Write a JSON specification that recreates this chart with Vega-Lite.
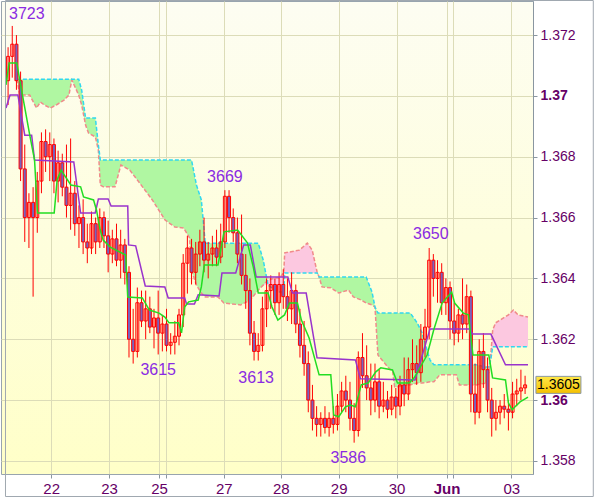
{
"$schema":"https://vega.github.io/schema/vega-lite/v6.json",
"width":532,"height":473,
"autosize":{"type":"none"},
"padding":{"left":1,"top":1,"right":67,"bottom":23},
"background":"#ffffff",
"config":{"view":{"stroke":"#98a4ae","strokeWidth":1,"fill":{"gradient":"linear","x1":0,"y1":0,"x2":0,"y2":1,"stops":[{"offset":0,"color":"#fdfdf2"},{"offset":1,"color":"#ffffc8"}]}}},
"datasets":{
"candles":[
{"t":0,"o":1.3705,"h":1.3716,"l":1.3697,"c":1.3713},{"t":1,"o":1.3713,"h":1.3723,"l":1.3706,"c":1.3717},{"t":2,"o":1.3717,"h":1.3720,"l":1.3702,"c":1.3705},{"t":3,"o":1.3705,"h":1.3708,"l":1.3672,"c":1.3676},{"t":4,"o":1.3676,"h":1.3684,"l":1.3652,"c":1.3660},
{"t":5,"o":1.3660,"h":1.3668,"l":1.3650,"c":1.3665},{"t":6,"o":1.3665,"h":1.3670,"l":1.3634,"c":1.3660},{"t":7,"o":1.3660,"h":1.3675,"l":1.3655,"c":1.3672},{"t":8,"o":1.3672,"h":1.3688,"l":1.3668,"c":1.3685},{"t":9,"o":1.3685,"h":1.3689,"l":1.3675,"c":1.3680},
{"t":10,"o":1.3680,"h":1.3688,"l":1.3672,"c":1.3684},{"t":11,"o":1.3684,"h":1.3686,"l":1.3668,"c":1.3672},{"t":12,"o":1.3672,"h":1.3682,"l":1.3665,"c":1.3678},{"t":13,"o":1.3678,"h":1.3681,"l":1.3667,"c":1.3670},{"t":14,"o":1.3670,"h":1.3684,"l":1.3660,"c":1.3664},
{"t":15,"o":1.3664,"h":1.3686,"l":1.3656,"c":1.3668},{"t":16,"o":1.3668,"h":1.3672,"l":1.3654,"c":1.3658},{"t":17,"o":1.3658,"h":1.3664,"l":1.3650,"c":1.3660},{"t":18,"o":1.3660,"h":1.3666,"l":1.3648,"c":1.3652},{"t":19,"o":1.3652,"h":1.3658,"l":1.3645,"c":1.3650},
{"t":20,"o":1.3650,"h":1.3662,"l":1.3648,"c":1.3658},{"t":21,"o":1.3658,"h":1.3660,"l":1.3648,"c":1.3652},{"t":22,"o":1.3652,"h":1.3663,"l":1.3650,"c":1.3660},{"t":23,"o":1.3660,"h":1.3662,"l":1.3650,"c":1.3654},{"t":24,"o":1.3654,"h":1.3659,"l":1.3642,"c":1.3648},
{"t":25,"o":1.3648,"h":1.3656,"l":1.3645,"c":1.3653},{"t":26,"o":1.3653,"h":1.3658,"l":1.3644,"c":1.3646},{"t":27,"o":1.3646,"h":1.3656,"l":1.3640,"c":1.3651},{"t":28,"o":1.3651,"h":1.3653,"l":1.3638,"c":1.3642},{"t":29,"o":1.3642,"h":1.3644,"l":1.3614,"c":1.3620},
{"t":30,"o":1.3620,"h":1.3630,"l":1.3612,"c":1.3616},{"t":31,"o":1.3616,"h":1.3637,"l":1.3614,"c":1.3632},{"t":32,"o":1.3632,"h":1.3636,"l":1.3624,"c":1.3626},{"t":33,"o":1.3626,"h":1.3636,"l":1.3620,"c":1.3630},{"t":34,"o":1.3630,"h":1.3634,"l":1.3622,"c":1.3624},
{"t":35,"o":1.3624,"h":1.3630,"l":1.3617,"c":1.3627},{"t":36,"o":1.3627,"h":1.3636,"l":1.3615,"c":1.3622},{"t":37,"o":1.3622,"h":1.3628,"l":1.3616,"c":1.3625},{"t":38,"o":1.3625,"h":1.3630,"l":1.3616,"c":1.3618},{"t":39,"o":1.3618,"h":1.3622,"l":1.3615,"c":1.3619},
{"t":40,"o":1.3619,"h":1.3626,"l":1.3615,"c":1.3621},{"t":41,"o":1.3621,"h":1.3630,"l":1.3618,"c":1.3628},{"t":42,"o":1.3628,"h":1.3648,"l":1.3624,"c":1.3645},{"t":43,"o":1.3645,"h":1.3654,"l":1.3635,"c":1.3650},{"t":44,"o":1.3650,"h":1.3653,"l":1.3638,"c":1.3642},
{"t":45,"o":1.3642,"h":1.3652,"l":1.3638,"c":1.3648},{"t":46,"o":1.3648,"h":1.3656,"l":1.3644,"c":1.3652},{"t":47,"o":1.3652,"h":1.3660,"l":1.3642,"c":1.3646},{"t":48,"o":1.3646,"h":1.3652,"l":1.3640,"c":1.3648},{"t":49,"o":1.3648,"h":1.3654,"l":1.3644,"c":1.3650},
{"t":50,"o":1.3650,"h":1.3656,"l":1.3644,"c":1.3647},{"t":51,"o":1.3647,"h":1.3658,"l":1.3645,"c":1.3652},{"t":52,"o":1.3652,"h":1.3669,"l":1.3650,"c":1.3667},{"t":53,"o":1.3667,"h":1.3669,"l":1.3655,"c":1.3660},{"t":54,"o":1.3660,"h":1.3663,"l":1.3652,"c":1.3655},
{"t":55,"o":1.3655,"h":1.3660,"l":1.3645,"c":1.3648},{"t":56,"o":1.3648,"h":1.3661,"l":1.3638,"c":1.3641},{"t":57,"o":1.3641,"h":1.3648,"l":1.3630,"c":1.3636},{"t":58,"o":1.3636,"h":1.3640,"l":1.3618,"c":1.3622},{"t":59,"o":1.3622,"h":1.3626,"l":1.3613,"c":1.3616},
{"t":60,"o":1.3616,"h":1.3622,"l":1.3613,"c":1.3618},{"t":61,"o":1.3618,"h":1.3634,"l":1.3616,"c":1.3630},{"t":62,"o":1.3630,"h":1.3640,"l":1.3624,"c":1.3636},{"t":63,"o":1.3636,"h":1.3641,"l":1.3630,"c":1.3638},{"t":64,"o":1.3638,"h":1.3640,"l":1.3628,"c":1.3632},
{"t":65,"o":1.3632,"h":1.3642,"l":1.3628,"c":1.3638},{"t":66,"o":1.3638,"h":1.3643,"l":1.3630,"c":1.3634},{"t":67,"o":1.3634,"h":1.3640,"l":1.3626,"c":1.3630},{"t":68,"o":1.3630,"h":1.3642,"l":1.3625,"c":1.3636},{"t":69,"o":1.3636,"h":1.3638,"l":1.3622,"c":1.3625},
{"t":70,"o":1.3625,"h":1.3630,"l":1.3614,"c":1.3618},{"t":71,"o":1.3618,"h":1.3626,"l":1.3608,"c":1.3612},{"t":72,"o":1.3612,"h":1.3616,"l":1.3596,"c":1.3600},{"t":73,"o":1.3600,"h":1.3605,"l":1.3590,"c":1.3594},{"t":74,"o":1.3594,"h":1.3598,"l":1.3588,"c":1.3592},
{"t":75,"o":1.3592,"h":1.3596,"l":1.3588,"c":1.3594},{"t":76,"o":1.3594,"h":1.3598,"l":1.3589,"c":1.3591},{"t":77,"o":1.3591,"h":1.3596,"l":1.3588,"c":1.3594},{"t":78,"o":1.3594,"h":1.3598,"l":1.3589,"c":1.3592},{"t":79,"o":1.3592,"h":1.3602,"l":1.3590,"c":1.3598},
{"t":80,"o":1.3598,"h":1.3606,"l":1.3596,"c":1.3603},{"t":81,"o":1.3603,"h":1.3608,"l":1.3596,"c":1.3600},{"t":82,"o":1.3600,"h":1.3606,"l":1.3590,"c":1.3594},{"t":83,"o":1.3594,"h":1.3599,"l":1.3586,"c":1.3590},{"t":84,"o":1.3590,"h":1.3616,"l":1.3588,"c":1.3614},
{"t":85,"o":1.3614,"h":1.3622,"l":1.3604,"c":1.3608},{"t":86,"o":1.3608,"h":1.3618,"l":1.3600,"c":1.3604},{"t":87,"o":1.3604,"h":1.3612,"l":1.3595,"c":1.3600},{"t":88,"o":1.3600,"h":1.3612,"l":1.3596,"c":1.3606},{"t":89,"o":1.3606,"h":1.3610,"l":1.3594,"c":1.3598},
{"t":90,"o":1.3598,"h":1.3606,"l":1.3596,"c":1.3600},{"t":91,"o":1.3600,"h":1.3603,"l":1.3594,"c":1.3597},{"t":92,"o":1.3597,"h":1.3605,"l":1.3595,"c":1.3601},{"t":93,"o":1.3601,"h":1.3604,"l":1.3594,"c":1.3598},{"t":94,"o":1.3598,"h":1.3608,"l":1.3595,"c":1.3605},
{"t":95,"o":1.3605,"h":1.3614,"l":1.3598,"c":1.3602},{"t":96,"o":1.3602,"h":1.3614,"l":1.3600,"c":1.3610},{"t":97,"o":1.3610,"h":1.3620,"l":1.3606,"c":1.3612},{"t":98,"o":1.3612,"h":1.3618,"l":1.3605,"c":1.3609},{"t":99,"o":1.3609,"h":1.3625,"l":1.3606,"c":1.3620},
{"t":100,"o":1.3620,"h":1.3630,"l":1.3614,"c":1.3624},{"t":101,"o":1.3624,"h":1.3650,"l":1.3620,"c":1.3646},{"t":102,"o":1.3646,"h":1.3648,"l":1.3634,"c":1.3640},{"t":103,"o":1.3640,"h":1.3646,"l":1.3632,"c":1.3642},{"t":104,"o":1.3642,"h":1.3645,"l":1.3628,"c":1.3632},
{"t":105,"o":1.3632,"h":1.3640,"l":1.3628,"c":1.3637},{"t":106,"o":1.3637,"h":1.3639,"l":1.3620,"c":1.3626},{"t":107,"o":1.3626,"h":1.3632,"l":1.3618,"c":1.3622},{"t":108,"o":1.3622,"h":1.3630,"l":1.3619,"c":1.3628},{"t":109,"o":1.3628,"h":1.3640,"l":1.3620,"c":1.3625},
{"t":110,"o":1.3625,"h":1.3638,"l":1.3622,"c":1.3634},{"t":111,"o":1.3634,"h":1.3636,"l":1.3596,"c":1.3602},{"t":112,"o":1.3602,"h":1.3612,"l":1.3592,"c":1.3596},{"t":113,"o":1.3596,"h":1.3620,"l":1.3594,"c":1.3616},{"t":114,"o":1.3616,"h":1.3622,"l":1.3604,"c":1.3610},
{"t":115,"o":1.3610,"h":1.3614,"l":1.3596,"c":1.3600},{"t":116,"o":1.3600,"h":1.3604,"l":1.3588,"c":1.3594},{"t":117,"o":1.3594,"h":1.3600,"l":1.3590,"c":1.3596},{"t":118,"o":1.3596,"h":1.3600,"l":1.3592,"c":1.3598},{"t":119,"o":1.3598,"h":1.3602,"l":1.3594,"c":1.3597},
{"t":120,"o":1.3597,"h":1.3600,"l":1.3590,"c":1.3596},{"t":121,"o":1.3596,"h":1.3606,"l":1.3594,"c":1.3602},{"t":122,"o":1.3602,"h":1.3607,"l":1.3598,"c":1.3603},{"t":123,"o":1.3603,"h":1.3610,"l":1.3600,"c":1.3604},{"t":124,"o":1.3604,"h":1.3608,"l":1.3602,"c":1.3605}
],
"kijun":[
{"t":-0.5,"p":1.3696},{"t":0.47,"p":1.37003},{"t":2.35,"p":1.37003},{"t":4,"p":1.36871},{"t":5.65,"p":1.36871},{"t":6.35,"p":1.36789},{"t":15.76,"p":1.36783},{"t":17.4,"p":1.36615},{"t":20.9,"p":1.36615},{"t":21.65,"p":1.36661},{"t":24,"p":1.36661},{"t":24.7,"p":1.36638},{"t":28.7,"p":1.36638},{"t":28.9,"p":1.3651},{"t":30.6,"p":1.36507},{"t":32.9,"p":1.36375},{"t":37.6,"p":1.36372},{"t":38.4,"p":1.36336},{"t":42.35,"p":1.36336},{"t":42.8,"p":1.36316},{"t":44.7,"p":1.36316},{"t":45.6,"p":1.36346},{"t":50.6,"p":1.36342},{"t":51.3,"p":1.36418},{"t":54.6,"p":1.36418},{"t":56.5,"p":1.3651},{"t":58.1,"p":1.3651},{"t":59.5,"p":1.36405},{"t":67.1,"p":1.36405},{"t":68.2,"p":1.36352},{"t":71.5,"p":1.36352},{"t":74.1,"p":1.36139},{"t":83.3,"p":1.36132},{"t":84.5,"p":1.3607},{"t":97.6,"p":1.36066},{"t":101.2,"p":1.36234},{"t":110.6,"p":1.36234},{"t":111.5,"p":1.36217},{"t":115.8,"p":1.36217},{"t":119.3,"p":1.36116},{"t":124.7,"p":1.36116}
],
"tenkan":[
{"t":-0.5,"p":1.37036},{"t":0.24,"p":1.37108},{"t":2.1,"p":1.37108},{"t":2.8,"p":1.37052},{"t":5.2,"p":1.36871},{"t":6.35,"p":1.36789},{"t":7.06,"p":1.36615},{"t":11.06,"p":1.36615},{"t":11.76,"p":1.36724},{"t":12.7,"p":1.36756},{"t":15.06,"p":1.36707},{"t":17.4,"p":1.36701},{"t":18.1,"p":1.36668},{"t":20.5,"p":1.36658},{"t":21.2,"p":1.36625},{"t":22.1,"p":1.36559},{"t":22.8,"p":1.36526},{"t":24.5,"p":1.36503},{"t":28.2,"p":1.36477},{"t":28.7,"p":1.36339},{"t":32.2,"p":1.36336},{"t":33.9,"p":1.36296},{"t":36.2,"p":1.36286},{"t":37.6,"p":1.36273},{"t":38.6,"p":1.36254},{"t":40.9,"p":1.36254},{"t":41.6,"p":1.36221},{"t":42.35,"p":1.36306},{"t":43.3,"p":1.36323},{"t":45.6,"p":1.36329},{"t":46.35,"p":1.36372},{"t":47.06,"p":1.36444},{"t":50.35,"p":1.36444},{"t":51.8,"p":1.36553},{"t":55.06,"p":1.36559},{"t":57.4,"p":1.36517},{"t":58.8,"p":1.36438},{"t":60,"p":1.36352},{"t":62.35,"p":1.36352},{"t":63.3,"p":1.36306},{"t":64.7,"p":1.36263},{"t":66.3,"p":1.3628},{"t":67.5,"p":1.36319},{"t":69.4,"p":1.36319},{"t":70.35,"p":1.36263},{"t":72.2,"p":1.36204},{"t":74.6,"p":1.36083},{"t":77.4,"p":1.36083},{"t":78.1,"p":1.35951},{"t":79.3,"p":1.35945},{"t":80.9,"p":1.35978},{"t":82.1,"p":1.35984},{"t":83.3,"p":1.35978},{"t":84.7,"p":1.3605},{"t":86.35,"p":1.36056},{"t":88.2,"p":1.36093},{"t":89.4,"p":1.36106},{"t":92.2,"p":1.36099},{"t":93.4,"p":1.36056},{"t":96.2,"p":1.36056},{"t":97.4,"p":1.36073},{"t":100.5,"p":1.36148},{"t":102.1,"p":1.36231},{"t":104.1,"p":1.36319},{"t":106.4,"p":1.36355},{"t":107.1,"p":1.36319},{"t":109.2,"p":1.36286},{"t":110.4,"p":1.3628},{"t":111.5,"p":1.36148},{"t":115.3,"p":1.36148},{"t":116.2,"p":1.36073},{"t":119.3,"p":1.36066},{"t":120,"p":1.35991},{"t":120.9,"p":1.35968},{"t":121.6,"p":1.35978},{"t":122.8,"p":1.35994},{"t":124.7,"p":1.3601}
],
"cloud":[
{"t":2.12,"a":1.37055,"b":1.37055},{"t":2.82,"a":1.37055,"b":1.37003},{"t":5.18,"a":1.37055,"b":1.37003},{"t":6.82,"a":1.37055,"b":1.3696},{"t":7.76,"a":1.37055,"b":1.3698},{"t":8.71,"a":1.37055,"b":1.3697},{"t":10.12,"a":1.37055,"b":1.3696},{"t":11.53,"a":1.37055,"b":1.3697},{"t":13.41,"a":1.37055,"b":1.36986},{"t":14.59,"a":1.37055,"b":1.37003},{"t":15.29,"a":1.37055,"b":1.37052},{"t":16.94,"a":1.37055,"b":1.37003},{"t":17.65,"a":1.37019,"b":1.3697},{"t":18.59,"a":1.36927,"b":1.36904},{"t":19.29,"a":1.36927,"b":1.36878},{"t":20.94,"a":1.36927,"b":1.36865},{"t":21.65,"a":1.36839,"b":1.36822},{"t":22.12,"a":1.36789,"b":1.36707},{"t":22.82,"a":1.36789,"b":1.36701},{"t":25.65,"a":1.36789,"b":1.36701},{"t":27.06,"a":1.36789,"b":1.36773},{"t":29.18,"a":1.36789,"b":1.36756},{"t":31.53,"a":1.36789,"b":1.36714},{"t":34.59,"a":1.36789,"b":1.36658},{"t":37.65,"a":1.36789,"b":1.36592},{"t":40,"a":1.36789,"b":1.36569},{"t":42.12,"a":1.36789,"b":1.36566},{"t":43.53,"a":1.36789,"b":1.36533},{"t":44,"a":1.36789,"b":1.36428},{"t":45.18,"a":1.36707,"b":1.36378},{"t":46.35,"a":1.36658,"b":1.36352},{"t":47.29,"a":1.36516,"b":1.36339},{"t":50.35,"a":1.36516,"b":1.36339},{"t":51.76,"a":1.36516,"b":1.36319},{"t":55.76,"a":1.36516,"b":1.36313},{"t":58.12,"a":1.36516,"b":1.36329},{"t":60,"a":1.36516,"b":1.36362},{"t":61.18,"a":1.36461,"b":1.36378},{"t":62.35,"a":1.36378,"b":1.36395},{"t":64,"a":1.36362,"b":1.36401},{"t":65.18,"a":1.36355,"b":1.36401},{"t":66.12,"a":1.36355,"b":1.36421},{"t":66.35,"a":1.36418,"b":1.36484},{"t":69.88,"a":1.36418,"b":1.36493},{"t":71.76,"a":1.36418,"b":1.36516},{"t":72.94,"a":1.36418,"b":1.36493},{"t":74.12,"a":1.36418,"b":1.36421},{"t":74.59,"a":1.36405,"b":1.36405},{"t":75.29,"a":1.36405,"b":1.36372},{"t":77.41,"a":1.36405,"b":1.36369},{"t":79.29,"a":1.36405,"b":1.36352},{"t":81.65,"a":1.36405,"b":1.36362},{"t":82.82,"a":1.36405,"b":1.36339},{"t":84.71,"a":1.36405,"b":1.36329},{"t":85.88,"a":1.36405,"b":1.36319},{"t":87.29,"a":1.36355,"b":1.36313},{"t":88,"a":1.36306,"b":1.36306},{"t":88.71,"a":1.36286,"b":1.36148},{"t":91.06,"a":1.36286,"b":1.36109},{"t":92.24,"a":1.36286,"b":1.36093},{"t":92.71,"a":1.36286,"b":1.36043},{"t":96.47,"a":1.36286,"b":1.3605},{"t":98.12,"a":1.36254,"b":1.36056},{"t":99.29,"a":1.36221,"b":1.36056},{"t":101.18,"a":1.36132,"b":1.3606},{"t":102.12,"a":1.36116,"b":1.3606},{"t":103.53,"a":1.36116,"b":1.36083},{"t":105.18,"a":1.36116,"b":1.36083},{"t":107.53,"a":1.36116,"b":1.36083},{"t":108.24,"a":1.36116,"b":1.3605},{"t":112.24,"a":1.36116,"b":1.3605},{"t":114.59,"a":1.36109,"b":1.36056},{"t":115.29,"a":1.36109,"b":1.36093},{"t":115.76,"a":1.36132,"b":1.36148},{"t":116.24,"a":1.36175,"b":1.36231},{"t":116.94,"a":1.36175,"b":1.36254},{"t":120,"a":1.36175,"b":1.3628},{"t":121.18,"a":1.36175,"b":1.36296},{"t":122.35,"a":1.36175,"b":1.3628},{"t":124.7,"a":1.36175,"b":1.36273}
],
"labels":[
{"t":4.5,"p":1.37269,"s":"3723"},{"t":52,"p":1.36733,"s":"3669"},{"t":36,"p":1.36099,"s":"3615"},{"t":59.5,"p":1.36073,"s":"3613"},{"t":81.6,"p":1.3581,"s":"3586"},{"t":101.4,"p":1.36546,"s":"3650"}
],
"last":[{"p":1.3605,"s":"1.3605"}]
},
"layer":[
{"data":{"name":"cloud"},"transform":[{"calculate":"min(datum.a,datum.b)","as":"lo"}],"mark":{"type":"area","color":"#b0f7a2","opacity":1},
 "encoding":{
  "x":{"field":"t","type":"quantitative","title":null,"scale":{"domain":[-0.5,124.7],"nice":false,"zero":false},
   "axis":{"orient":"bottom","values":[10.33,24.21,36.21,37.86,51.75,65.4,79.28,93.17,105.17,106.82,120.7],
    "labelExpr":"datum.value<15?'22':datum.value<30?'23':datum.value<37?'25':datum.value<40?'':datum.value<58?'27':datum.value<72?'28':datum.value<86?'29':datum.value<99?'30':datum.value<106?'Jun':datum.value<110?'':'03'",
    "grid":true,"gridColor":"#dcdcb8","gridWidth":1,"domain":false,"tickSize":4,"tickColor":"#8a96a0",
    "labelFont":"Liberation Sans","labelFontSize":15,"labelColor":"#660066","labelPadding":3,
    "labelFontWeight":{"condition":{"test":"datum.value>105 && datum.value<105.5","value":"bold"},"value":"normal"},
    "labelOverlap":false,"labelFlush":false}},
  "y":{"field":"a","type":"quantitative","title":null,"scale":{"domain":[1.35757,1.37312],"nice":false,"zero":false},
   "axis":{"orient":"right","values":[1.358,1.359,1.36,1.361,1.362,1.363,1.364,1.365,1.366,1.367,1.368,1.369,1.37,1.371,1.372,1.373],
    "labelExpr":"round(datum.value*1000)%2==1 ? '' : (round(datum.value*1000)%10==0 ? format(datum.value,'.2f') : format(datum.value,'.3f'))",
    "grid":true,"gridColor":"#dcdcb8","gridWidth":1,
    "gridOpacity":{"condition":{"test":"round(datum.value*1000)%2==1","value":0},"value":1},
    "domain":true,"domainColor":"#8a96a0","tickSize":4,"tickColor":"#8a96a0",
    "labelFont":"Liberation Sans","labelFontSize":14,"labelColor":"#660066","labelPadding":3,
    "labelFontWeight":{"condition":{"test":"round(datum.value*1000)%10==0","value":"bold"},"value":"normal"},
    "labelOverlap":false,"labelFlush":false}},
  "y2":{"field":"lo"}}},
{"data":{"name":"cloud"},"transform":[{"calculate":"min(datum.a,datum.b)","as":"lo"}],"mark":{"type":"area","color":"#fcc8e0","opacity":1},
 "encoding":{"x":{"field":"t","type":"quantitative","title":null},"y":{"field":"b","type":"quantitative","title":null},"y2":{"field":"lo"}}},
{"data":{"name":"cloud"},"mark":{"type":"line","color":"#f08a8a","strokeDash":[4,2],"strokeWidth":1.5},
 "encoding":{"x":{"field":"t","type":"quantitative","title":null},"y":{"field":"b","type":"quantitative","title":null}}},
{"data":{"name":"cloud"},"mark":{"type":"line","color":"#30d8f0","strokeDash":[4,2],"strokeWidth":1.5},
 "encoding":{"x":{"field":"t","type":"quantitative","title":null},"y":{"field":"a","type":"quantitative","title":null}}},
{"data":{"name":"candles"},"mark":{"type":"rule","color":"#ff0000","strokeWidth":1},
 "encoding":{"x":{"field":"t","type":"quantitative","title":null},"y":{"field":"l","type":"quantitative","title":null},"y2":{"field":"h"}}},
{"data":{"name":"candles"},"mark":{"type":"bar","size":3,"stroke":"#ff0000","strokeWidth":1},
 "encoding":{"x":{"field":"t","type":"quantitative","title":null},"y":{"field":"o","type":"quantitative","title":null},"y2":{"field":"c"},
  "fill":{"condition":{"test":"datum.c < datum.o","value":"#7a62bd"},"value":"transparent"}}},
{"data":{"name":"kijun"},"mark":{"type":"line","color":"#9933cc","strokeWidth":1.5},
 "encoding":{"x":{"field":"t","type":"quantitative","title":null},"y":{"field":"p","type":"quantitative","title":null}}},
{"data":{"name":"tenkan"},"mark":{"type":"line","color":"#22dd22","strokeWidth":1.5},
 "encoding":{"x":{"field":"t","type":"quantitative","title":null},"y":{"field":"p","type":"quantitative","title":null}}},
{"data":{"name":"labels"},"mark":{"type":"text","font":"Liberation Sans","fontSize":16,"color":"#8a2be2","align":"center","baseline":"middle"},
 "encoding":{"x":{"field":"t","type":"quantitative","title":null},"y":{"field":"p","type":"quantitative","title":null},"text":{"field":"s"}}},
{"data":{"name":"last"},"mark":{"type":"point","shape":"M-1,-0.378H1V0.378H-1Z","size":2025,"filled":true,"opacity":1,"stroke":"#8a98a6","strokeWidth":1,
  "fill":{"gradient":"linear","x1":0,"y1":0,"x2":0,"y2":1,"stops":[{"offset":0,"color":"#ffe84a"},{"offset":1,"color":"#f5c000"}]}},
 "encoding":{"x":{"datum":132,"type":"quantitative","title":null},"y":{"field":"p","type":"quantitative","title":null}}},
{"data":{"name":"last"},"mark":{"type":"text","font":"Liberation Sans","fontSize":14,"color":"#000000","align":"center","baseline":"middle"},
 "encoding":{"x":{"datum":132,"type":"quantitative","title":null},"y":{"field":"p","type":"quantitative","title":null},"text":{"field":"s"}}},
{"data":{"values":[{}]},"mark":{"type":"rect","fill":"transparent","stroke":"#a0a8b0","strokeWidth":1},
 "encoding":{"x":{"datum":-0.62,"type":"quantitative","title":null},"x2":{"datum":140.36},"y":{"datum":1.373136,"type":"quantitative","title":null},"y2":{"datum":1.35683}}}
]
}
